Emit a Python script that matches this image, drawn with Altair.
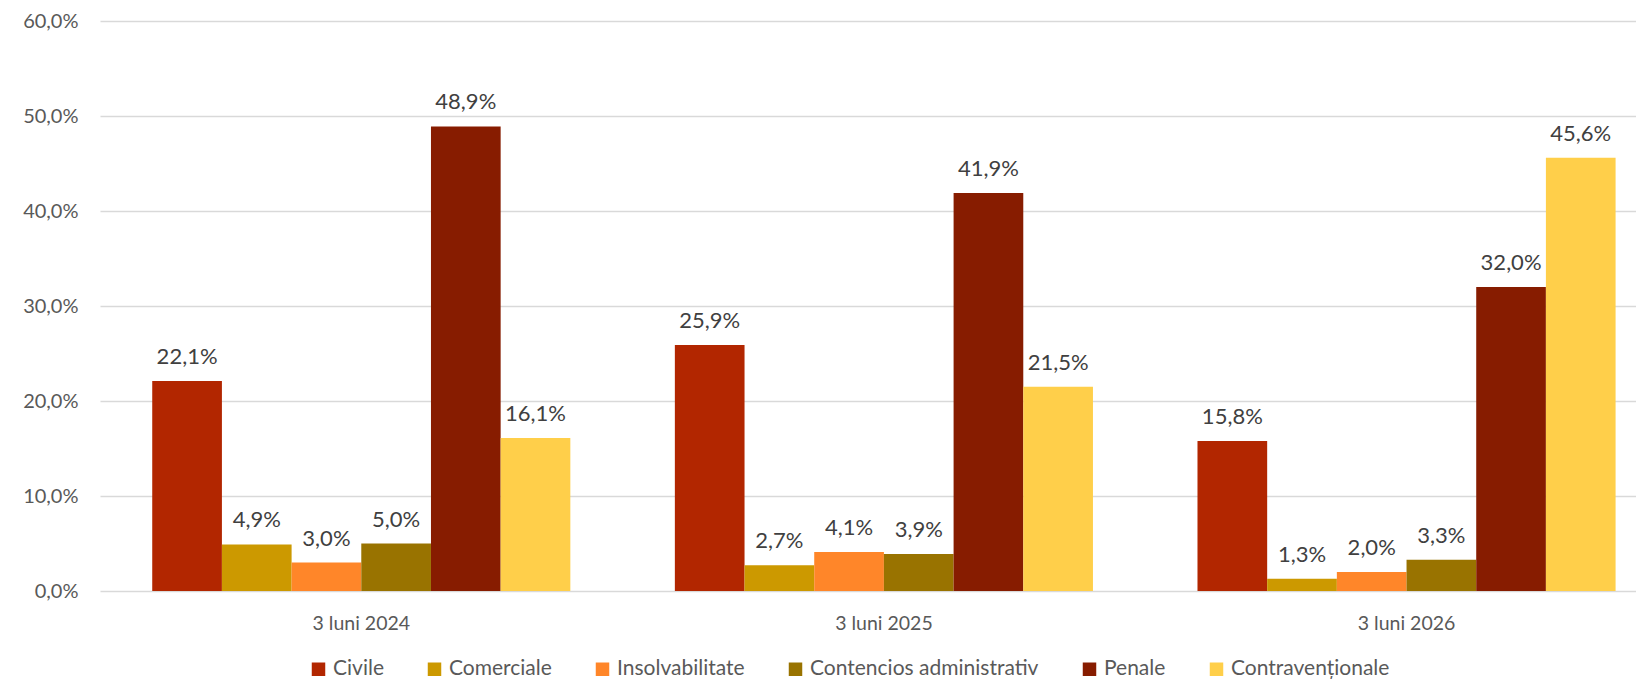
import altair as alt
import pandas as pd

categories = ["3 luni 2024", "3 luni 2025", "3 luni 2026"]
series = ["Civile", "Comerciale", "Insolvabilitate", "Contencios administrativ", "Penale", "Contravenționale"]
colors = ["#B22600", "#CC9900", "#FF8629", "#997300", "#871C00", "#FFCF4A"]
v2024 = [0.221, 0.049, 0.030, 0.050, 0.489, 0.161]
v2025 = [0.259, 0.027, 0.041, 0.039, 0.419, 0.215]
v2026 = [0.158, 0.013, 0.020, 0.033, 0.320, 0.456]
y_ticks = [0, 0.1, 0.2, 0.3, 0.4, 0.5, 0.6]

rows = []
for cat, vals in zip(categories, [v2024, v2025, v2026]):
    for s, v in zip(series, vals):
        rows.append({"period": cat, "type": s, "value": v})
df = pd.DataFrame(rows)

FONT = "Lato"
LBL = "#595959"

x = alt.X(
    "period:N", sort=categories, title=None,
    scale=alt.Scale(paddingInner=0.2, paddingOuter=0.0695, align=0.719),
    axis=alt.Axis(labelAngle=0, domain=False, ticks=False, tickSize=0, labelPadding=23,
                  labelFontSize=19.5, labelColor=LBL, labelFont=FONT, grid=False),
)
xo = alt.XOffset("type:N", sort=series, scale=alt.Scale(paddingInner=0, paddingOuter=0))
y = alt.Y(
    "value:Q", title=None,
    scale=alt.Scale(domain=[0, 0.6], nice=False),
    axis=alt.Axis(values=y_ticks, labelExpr="replace(format(datum.value, '.1%'), '.', ',')",
                  domain=False, ticks=False, tickSize=0, labelPadding=22, labelFontSize=20,
                  labelColor=LBL, labelFont=FONT, gridColor="#D9D9D9", gridWidth=1.5),
)
color = alt.Color(
    "type:N", sort=series,
    scale=alt.Scale(domain=series, range=colors),
    legend=alt.Legend(title=None, orient="none", direction="horizontal", legendX=208, legendY=637.5,
                      columns=6, symbolType="square", symbolSize=182, symbolStrokeWidth=0,
                      labelFontSize=21, labelFont=FONT, labelColor=LBL, labelOffset=4,
                      columnPadding=40, labelLimit=400),
)

base = alt.Chart(df)
bars = base.mark_bar().encode(x=x, xOffset=xo, y=y, color=color)
labels = base.transform_calculate(
    label="replace(format(datum.value, '.1%'), '.', ',')"
).mark_text(dy=-17, baseline="alphabetic", fontSize=22, font=FONT, color="#404040").encode(
    x=x, xOffset=xo, y=y, text="label:N"
)

chart = alt.layer(bars, labels).properties(
    width=1536, height=570,
    autosize=alt.AutoSizeParams(type="none"),
    padding={"left": 92, "top": 13, "right": 0, "bottom": 90},
).configure_view(stroke=None)

chart.save("out.html", embed_options={"renderer": "svg", "actions": False})
